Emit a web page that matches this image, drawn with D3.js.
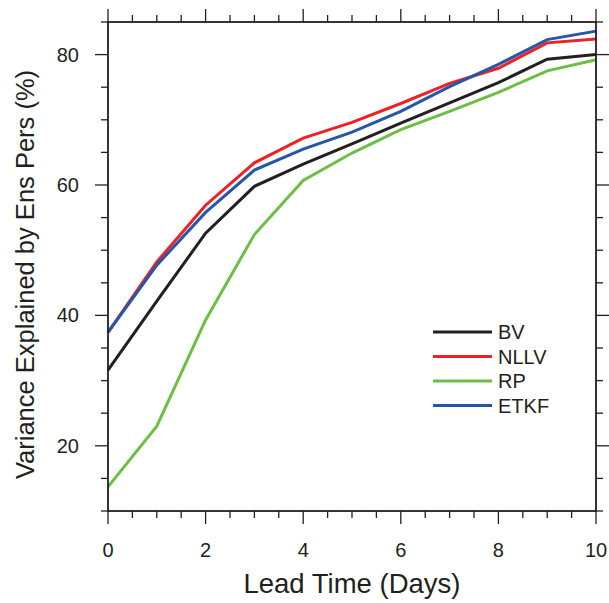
<!DOCTYPE html>
<html>
<head>
<meta charset="utf-8">
<script src="https://cdn.jsdelivr.net/npm/d3@7"></script>
<style>
  body { margin: 0; background: #fff; }
  svg text { font-family: "Liberation Sans", Arial, Helvetica, sans-serif; fill: #231f20; }
</style>
</head>
<body>
<div id="chart"></div>
<script>
// Lead time (days) vs variance explained by ensemble perturbations
const leadDays = [0, 1, 2, 3, 4, 5, 6, 7, 8, 9, 10];

const bvValues   = [31.6, 42.2, 52.6, 59.8, 63.2, 66.3, 69.5, 72.6, 75.7, 79.3, 80.0];
const nllvValues = [37.4, 48.2, 56.9, 63.4, 67.2, 69.6, 72.5, 75.6, 77.9, 81.8, 82.4];
const rpValues   = [13.7, 23.0, 39.3, 52.4, 60.7, 64.9, 68.5, 71.3, 74.2, 77.5, 79.2];
const etkfValues = [37.4, 47.7, 55.8, 62.3, 65.5, 68.1, 71.3, 75.1, 78.5, 82.3, 83.6];

const seriesNames  = ["BV", "NLLV", "RP", "ETKF"];
const seriesColors = ["#231f20", "#ec2227", "#6cbf45", "#2457a7"];
const seriesValues = [bvValues, nllvValues, rpValues, etkfValues];

const xMajorTicks = [0, 2, 4, 6, 8, 10];
const yMajorTicks = [20, 40, 60, 80];

function drawChart() {
  const W = 609, H = 603;
  const margin = { top: 22, right: 13, bottom: 92, left: 108 };
  const plotW = W - margin.left - margin.right;
  const plotH = H - margin.top - margin.bottom;

  const svg = d3.select("#chart").append("svg")
    .attr("width", W)
    .attr("height", H);

  const g = svg.append("g")
    .attr("transform", `translate(${margin.left},${margin.top})`);

  const x = d3.scaleLinear().domain([0, 10]).range([0, plotW]);
  const y = d3.scaleLinear().domain([10, 85]).range([plotH, 0]);

  const xMinor = d3.range(0, 10.01, 0.5).filter(v => !xMajorTicks.includes(v));
  const yMinor = d3.range(10, 85.01, 5).filter(v => !yMajorTicks.includes(v));

  const tickColor = "#231f20";
  const majorLen = 13, minorLen = 7;

  // ticks on all four sides, pointing outward
  function drawTicks(vals, len) {
    vals.forEach(v => {
      const px = x(v);
      g.append("line").attr("x1", px).attr("x2", px).attr("y1", plotH).attr("y2", plotH + len)
        .attr("stroke", tickColor).attr("stroke-width", 1.3);
      g.append("line").attr("x1", px).attr("x2", px).attr("y1", 0).attr("y2", -len)
        .attr("stroke", tickColor).attr("stroke-width", 1.3);
    });
  }
  function drawYTicks(vals, len) {
    vals.forEach(v => {
      const py = y(v);
      g.append("line").attr("x1", 0).attr("x2", -len).attr("y1", py).attr("y2", py)
        .attr("stroke", tickColor).attr("stroke-width", 1.3);
      g.append("line").attr("x1", plotW).attr("x2", plotW + len).attr("y1", py).attr("y2", py)
        .attr("stroke", tickColor).attr("stroke-width", 1.3);
    });
  }
  drawTicks(xMajorTicks, majorLen);
  drawTicks(xMinor, minorLen);
  drawYTicks(yMajorTicks, majorLen);
  drawYTicks(yMinor, minorLen);

  // tick labels
  g.selectAll(".xlab").data(xMajorTicks).join("text")
    .attr("class", "xlab")
    .attr("x", d => x(d))
    .attr("y", plotH + 46)
    .attr("text-anchor", "middle")
    .style("font-size", "20px")
    .text(d => d);

  g.selectAll(".ylab").data(yMajorTicks).join("text")
    .attr("class", "ylab")
    .attr("x", -29)
    .attr("y", d => y(d) + 7)
    .attr("text-anchor", "end")
    .style("font-size", "20px")
    .text(d => d);

  // lines
  const line = d3.line()
    .x((d, i) => x(leadDays[i]))
    .y(d => y(d));

  seriesValues.forEach((vals, i) => {
    g.append("path")
      .datum(vals)
      .attr("d", line)
      .attr("fill", "none")
      .attr("stroke", seriesColors[i])
      .attr("stroke-width", 3)
      .attr("stroke-linejoin", "miter");
  });

  // frame
  g.append("rect")
    .attr("width", plotW).attr("height", plotH)
    .attr("fill", "none")
    .attr("stroke", tickColor)
    .attr("stroke-width", 1.8);

  // legend
  const legX = 325, legY = 310, legStep = 24.5;
  seriesNames.forEach((name, i) => {
    const ly = legY + i * legStep;
    g.append("line")
      .attr("x1", legX).attr("x2", legX + 59)
      .attr("y1", ly).attr("y2", ly)
      .attr("stroke", seriesColors[i])
      .attr("stroke-width", 3);
    g.append("text")
      .attr("x", legX + 65)
      .attr("y", ly + 7)
      .style("font-size", "20px")
      .text(name);
  });

  // axis titles
  svg.append("text")
    .attr("x", margin.left + plotW / 2)
    .attr("y", 593)
    .attr("text-anchor", "middle")
    .style("font-size", "27.5px")
    .text("Lead Time (Days)");

  svg.append("text")
    .attr("transform", `translate(34,${margin.top + plotH / 2 + 8}) rotate(-90)`)
    .attr("text-anchor", "middle")
    .style("font-size", "25.5px")
    .text("Variance Explained by Ens Pers (%)");
}

drawChart();
</script>
</body>
</html>
